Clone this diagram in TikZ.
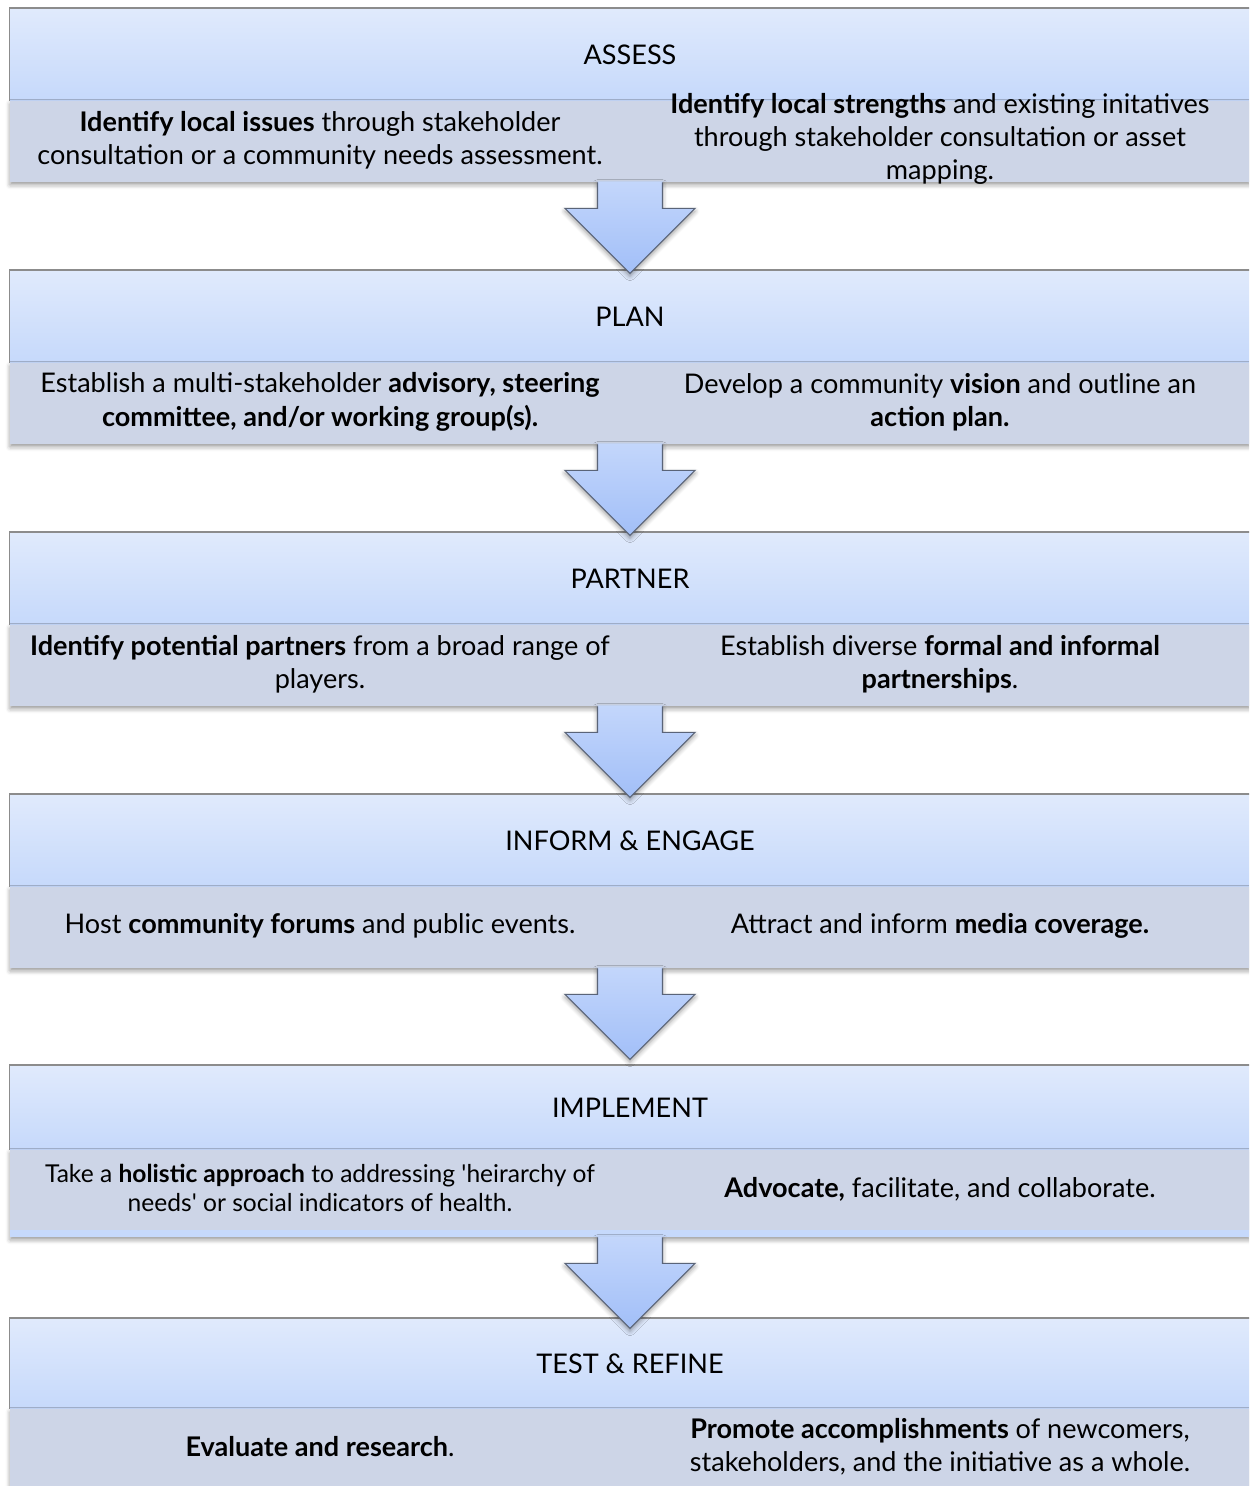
\documentclass[tikz,border=0pt]{standalone}
\usepackage{fontspec}
\setmainfont{Lato}[Ligatures=TeXOff]
\usetikzlibrary{positioning,calc,shadows.blur}

\definecolor{bandtop}{HTML}{E0EAFC}
\definecolor{bandbot}{HTML}{C6D9FB}
\definecolor{bodyfill}{HTML}{CDD5E7}
\definecolor{edgegray}{HTML}{8C8C8C}
\definecolor{arrowtop}{HTML}{C3D6FB}
\definecolor{arrowbot}{HTML}{A2BFF8}
\definecolor{arrowline}{HTML}{5A6478}

\newcommand\stepfont{\fontsize{15.4}{19}\selectfont}
\newcommand\smallstepfont{\fontsize{14}{16.6}\selectfont}

\tikzset{
  softshadow/.style={blur shadow={shadow xshift=0pt, shadow yshift=-1.6pt,
      shadow blur radius=2.6pt, shadow opacity=40}},
  head/.style={rectangle, minimum width=24.8cm, minimum height=1.84cm,
      inner sep=0pt, anchor=north, top color=bandtop, bottom color=bandbot,
      font=\stepfont},
  body/.style={rectangle, minimum width=24.8cm, minimum height=1.62cm,
      inner sep=0pt, fill=bodyfill, below=0pt of #1, softshadow},
  item/.style={align=center, inner sep=0pt, font=\stepfont},
  edge/.style={draw=edgegray, line width=0.8pt},
  arrowfill/.style={top color=arrowtop, bottom color=arrowbot, softshadow},
  arrowedge/.style={draw=arrowline, line width=0.6pt, line join=miter},
}

\begin{document}
\begin{tikzpicture}[x=0.02cm, y=-0.02cm]
  \useasboundingbox (0,0) rectangle (1249,1486);
  \clip (0,0) rectangle (1249,1486);

  % panels: title band on top, two actions below
  \node[head] (assess) at (630,8) {ASSESS};
  \node[body=assess] (assessBody) {};
  \node[item] (issues) at (320,140)
    {\textbf{Identify local issues} through stakeholder\\
     consultation or a community needs assessment.};
  \node[item] (strengths) at (940,139)
    {\textbf{Identify local strengths} and existing initatives\\
     through stakeholder consultation or asset\\
     mapping.};

  \node[head] (plan) at (630,270) {PLAN};
  \node[body=plan] (planBody) {};
  \node[item] (advisory) at (320,402)
    {Establish a multi-stakeholder \textbf{advisory, steering}\\
     \textbf{committee, and/or working group(s).}};
  \node[item] (vision) at (940,402)
    {Develop a community \textbf{vision} and outline an\\
     \textbf{action plan.}};

  \node[head] (partner) at (630,532) {PARTNER};
  \node[body=partner] (partnerBody) {};
  \node[item] (partners) at (320,664)
    {\textbf{Identify potential partners} from a broad range of\\
     players.};
  \node[item] (partnerships) at (940,664)
    {Establish diverse \textbf{formal and informal}\\
     \textbf{partnerships}.};

  \node[head] (inform) at (630,794) {INFORM \& ENGAGE};
  \node[body=inform] (informBody) {};
  \node[item] (forums) at (320,926)
    {Host \textbf{community forums} and public events.};
  \node[item] (media) at (940,926)
    {Attract and inform \textbf{media coverage.}};

  % this one keeps a thin blue strip under its grey band
  \node[head, minimum height=1.68cm] (implement) at (630,1065) {IMPLEMENT};
  \node[body=implement, minimum height=1.74cm, fill=bandbot,
        path picture={\fill[bodyfill] (path picture bounding box.north west)
          rectangle ([yshift=0.14cm]path picture bounding box.south east);}]
        (implementBody) {};
  \node[item, font=\smallstepfont] (holistic) at (320,1188)
    {Take a \textbf{holistic approach} to addressing 'heirarchy of\\
     needs' or social indicators of health.};
  \node[item] (advocate) at (940,1189)
    {\textbf{Advocate,} facilitate, and collaborate.};

  \node[head, minimum height=1.8cm] (test) at (630,1318) {TEST \& REFINE};
  \node[body=test, minimum height=1.6cm] (testBody) {};
  \node[item] (evaluate) at (320,1447)
    {\textbf{Evaluate and research}.};
  \node[item] (promote) at (940,1447)
    {\textbf{Promote accomplishments} of newcomers,\\
     stakeholders, and the initiative as a whole.};

  % outline on the top and left of each panel
  \foreach \h in {assess,plan,partner,inform,implement,test}
    \draw[edge] (\h.south west) -- (\h.north west) -- (\h.north east);

  % block arrows between the panels
  \foreach \p in {assessBody,planBody,partnerBody,informBody,implementBody}
  {
    \path[arrowfill] ($(\p.south)+(-32.5,-1)$) -- ++(0,27) -- ++(-32.5,0)
      -- ++(65,65) -- ++(65,-65) -- ++(-32.5,0) -- ++(0,-27) -- cycle;
    \draw[arrowedge] ($(\p.south)+(-32.5,0)$) -- ++(0,26) -- ++(-32.5,0)
      -- ++(65,65) -- ++(65,-65) -- ++(-32.5,0) -- ++(0,-26);
  }
\end{tikzpicture}
\end{document}
